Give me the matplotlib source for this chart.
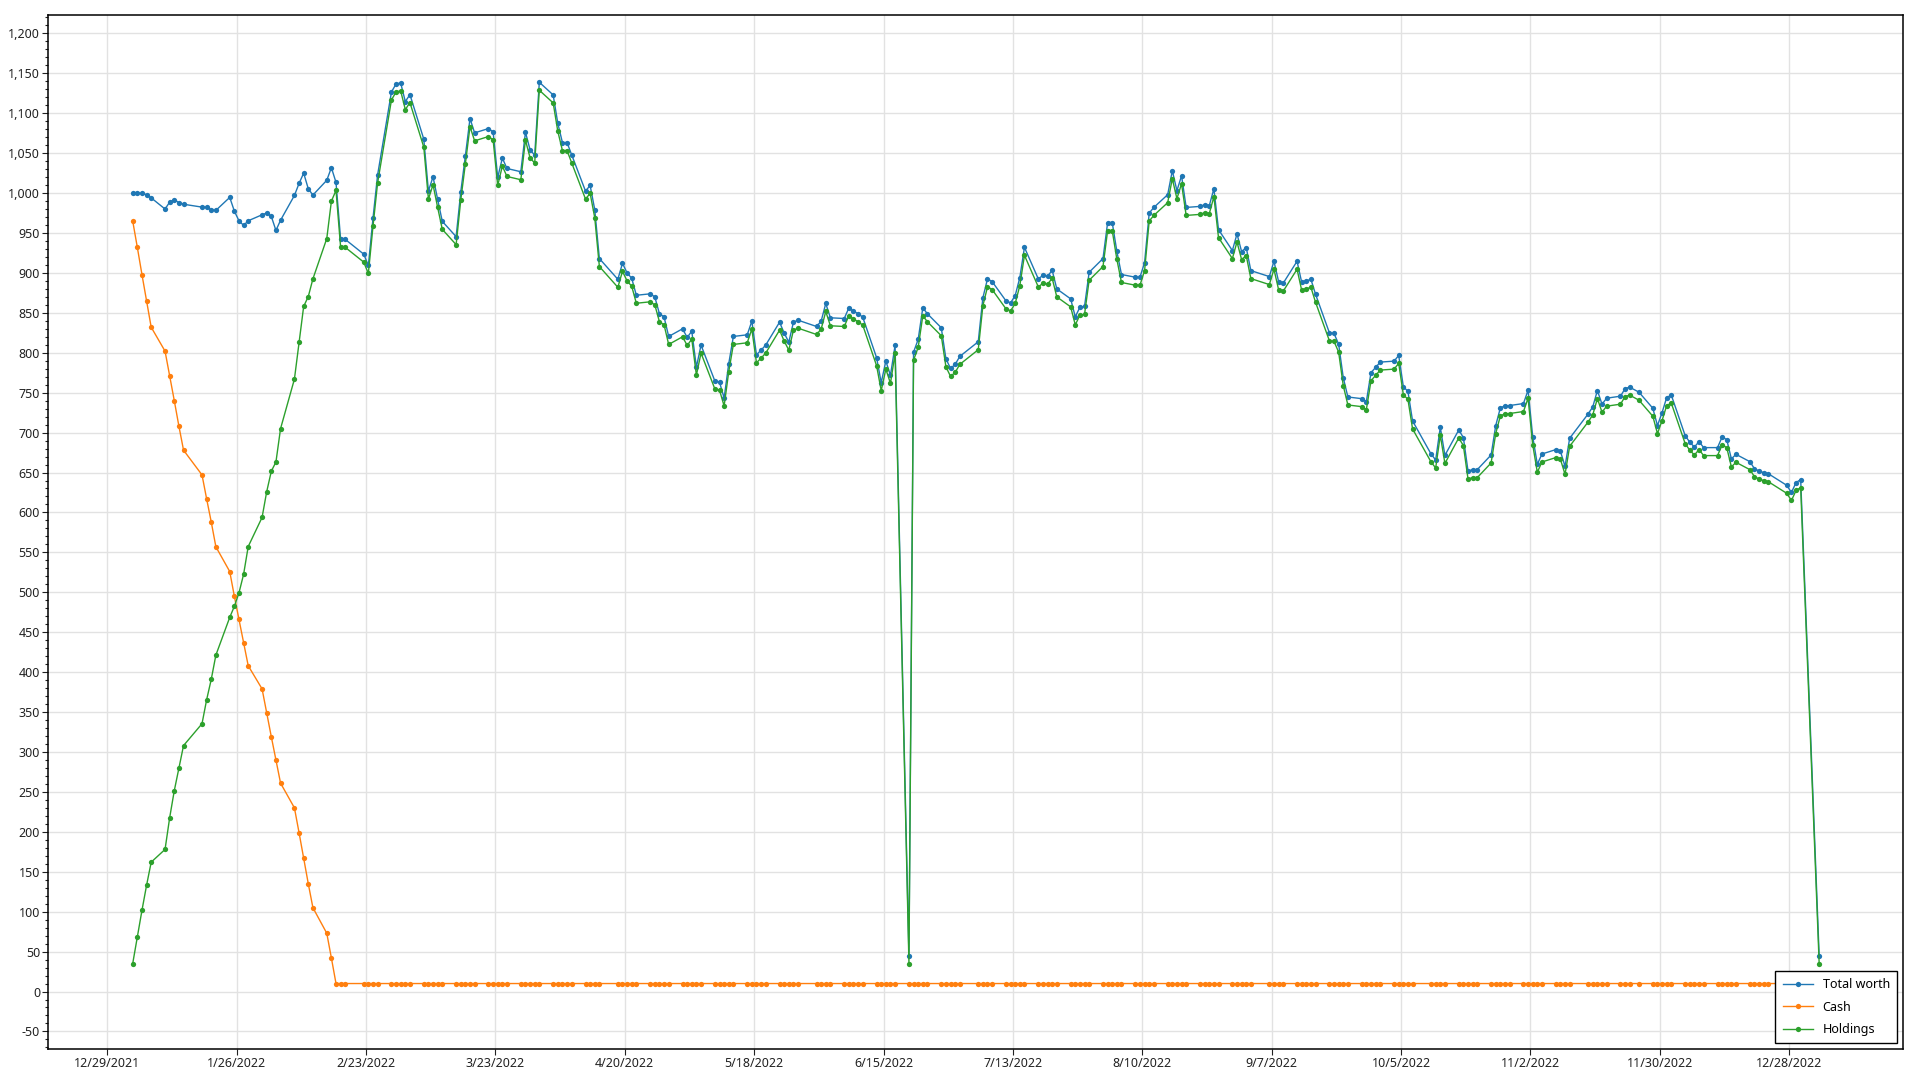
import numpy as np
import pandas as pd
import matplotlib
matplotlib.use('Agg')
import matplotlib.pyplot as plt
import matplotlib.dates as mdates
from matplotlib.ticker import MultipleLocator, FuncFormatter

# Trading days in the portfolio log: weekdays minus the closed days.
# Juneteenth and 1/3/2023 are in the log (with a bad quote), 10/10 and 11/11 are not.
closed_days = ['2022-01-17', '2022-02-21', '2022-04-15', '2022-05-30', '2022-07-04',
               '2022-09-05', '2022-10-10', '2022-11-11', '2022-11-24', '2022-12-26']
extra_days = ['2023-01-03']

# Total worth, one list per month
total_jan = [1000, 1000, 999.6, 998, 994, 980, 988.7, 991.6, 988, 986,
             982.4, 982.4, 979, 978.3, 994.6, 977.4, 965.3, 959.5, 965.3, 972.8]
total_feb = [975, 970.7, 953.2, 966, 997, 1012, 1025, 1005.4, 997.5, 1016,
             1031.8, 1013.4, 942, 942, 923.5, 909.3, 968.2, 1022.6, 1126.6]
total_mar = [1136.7, 1137.9, 1114.6, 1123.3, 1067.5, 1002.5, 1020.4, 992, 964.6, 945.4,
             1001.3, 1046.7, 1093.3, 1075.4, 1080.8, 1076.7, 1019.6, 1043.8, 1030.8, 1026.7,
             1076.3, 1054.2, 1047.5]
total_apr = [1138.8, 1122.9, 1087.5, 1063.3, 1063.3, 1048, 1002.5, 1009.6, 979.2, 918,
             892, 912, 900, 893.3, 872, 873.8, 870, 848.8, 845, 820.4]
total_may = [830, 819.2, 827, 782, 809.6, 764.6, 763.3, 743.3, 786.3, 820.4,
             822.5, 839.6, 797.5, 803.3, 809.6, 838.3, 824.6, 813.3, 838.3, 840.8,
             832.9]
total_jun = [839.6, 861.7, 843.8, 842.9, 856.3, 852, 849, 844.6, 793.8, 762.5,
             789.6, 771.7, 809.2, 45, 800.8, 816.7, 856.3, 848.8, 831.3, 792.5,
             780.4, 785.4]
total_jul = [795.4, 813.8, 868.8, 892.5, 889.2, 865, 862.5, 871.7, 894.2, 932,
             892.5, 897, 895.8, 903.3, 880, 867.5, 845, 857, 858, 900.8]
total_aug = [918, 963, 963, 927, 898, 894.6, 894.6, 912.9, 975, 982,
             998, 1028, 1003, 1021.7, 982, 983.3, 985.4, 984.2, 1005.4, 954.2,
             928, 948.8, 926.7]
total_sep = [931.7, 902.9, 895.4, 914.6, 889.2, 887.1, 914.6, 888.3, 890, 892,
             873.3, 825, 824.2, 810.8, 768.8, 744.6, 742.5, 738.9, 775, 781.7,
             788.3]
total_oct = [789.5, 796.7, 757.7, 751.5, 714.6, 673.2, 665.7, 706.7, 671.5, 703.3,
             693.7, 651.9, 653.6, 653.6, 672, 708.8, 731, 733.5, 733.9, 736.4]
total_nov = [753.1, 695, 660.3, 673.2, 678.7, 676.6, 657.7, 692.9, 723.4, 732.2,
             752.7, 735.6, 743.1, 745.6, 755.2, 756.9, 750.6, 730.5, 708.8, 725.1]
total_dec = [743.9, 746.9, 696.2, 687.9, 682, 688.7, 681.2, 681.2, 694.6, 691.2,
             667.1, 672.8, 663.6, 654.8, 651.9, 649.8, 648.5, 633.9, 625, 637.5,
             641.1]
total_jan23 = [45]

# Cash while buying in (first 32 trading days), then it stays at the floor
cash_buying = [965, 932, 898, 865, 832, 802, 771, 740, 708, 678,
               647, 617, 588, 557, 526, 495, 466, 437, 408, 379,
               349, 319, 290, 261, 230, 199, 167, 135, 105, 73,
               42, 10]
cash_floor = 10

series_names = ['Total worth', 'Cash', 'Holdings']
series_colors = ['#1f77b4', '#ff7f0e', '#2ca02c']

# Build the x axis dates (the log stamps each day at midday)
days = pd.bdate_range('2022-01-03', '2022-12-30')
days = days[~days.isin(pd.to_datetime(closed_days))]
days = days.append(pd.DatetimeIndex(pd.to_datetime(extra_days)))
days = days + pd.Timedelta(hours=12)

total = np.array(total_jan + total_feb + total_mar + total_apr + total_may + total_jun +
                 total_jul + total_aug + total_sep + total_oct + total_nov + total_dec +
                 total_jan23)
cash = np.array(cash_buying + [cash_floor] * (len(total) - len(cash_buying)), dtype=float)
holdings = total - cash

df = pd.DataFrame({'Total worth': total, 'Cash': cash, 'Holdings': holdings}, index=days)

plt.rcParams['font.family'] = ['Noto Sans', 'DejaVu Sans']

fig = plt.figure(figsize=(19.2, 10.8), dpi=100)
ax = fig.add_axes([0.0252, 0.0287, 0.9660, 0.9574])

for name, color in zip(series_names, series_colors):
    ax.plot(df.index, df[name], color=color, lw=1.0, marker='o', markersize=3.8,
            markeredgewidth=0, label=name, zorder=3)

# Axes: dates every 28 days from 12/29/2021, values every 50
x_ticks = pd.date_range('2021-12-29', '2022-12-28', freq='28D')
ax.set_xticks(x_ticks)
ax.xaxis.set_major_formatter(FuncFormatter(
    lambda v, pos: '{d.month}/{d.day}/{d.year}'.format(d=mdates.num2date(v))))
ax.set_xlim(pd.Timestamp('2021-12-16 06:00'), pd.Timestamp('2023-01-21 16:00'))

ax.set_ylim(-72, 1223)
ax.yaxis.set_major_locator(MultipleLocator(50))
ax.yaxis.set_minor_locator(MultipleLocator(10))
ax.yaxis.set_major_formatter(FuncFormatter(lambda v, pos: f'{v:,.0f}'))

ax.grid(True, which='major', color='#e2e2e2', lw=1.0, zorder=0)
ax.set_axisbelow(True)
ax.tick_params(axis='both', which='major', direction='out', length=4, width=0.8,
               labelsize=9, colors='#222222', pad=2)
ax.tick_params(axis='y', which='minor', direction='out', length=2.5, width=0.8, colors='#222222')
ax.tick_params(axis='x', which='minor', length=0)

for side in ['left', 'bottom', 'top', 'right']:
    ax.spines[side].set_color('black')
    ax.spines[side].set_linewidth(1.1)

leg = ax.legend(loc='lower right', fontsize=9, frameon=True, fancybox=False,
                edgecolor='black', framealpha=1, borderaxespad=0.45,
                handlelength=2.4, labelspacing=0.75, borderpad=0.6)
leg.get_frame().set_linewidth(1.0)

fig.savefig('out.png', dpi=100)
